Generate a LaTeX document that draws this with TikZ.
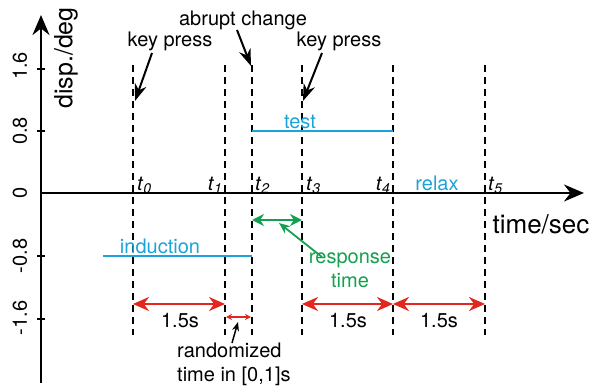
\documentclass[tikz,border=0pt]{standalone}
\usepackage{fontspec}
\setmainfont{TeX Gyre Heros}
\usetikzlibrary{arrows.meta}
\definecolor{myred}{RGB}{226,40,30}
\definecolor{myblue}{RGB}{28,163,218}
\definecolor{mygreen}{RGB}{20,160,80}
\newcommand{\tsub}[1]{{\itshape t\kern0.5pt\raisebox{-3pt}{\fontsize{14}{14}\selectfont #1}}}
\tikzset{
  lbl/.style={inner sep=0pt, font=\fontsize{20}{24}\selectfont},
  axlbl/.style={inner sep=0pt, font=\fontsize{25}{30}\selectfont},
  axisline/.style={line width=2.4pt, -{Stealth[length=20pt,width=17pt]}},
  tickmark/.style={line width=1.2pt},
  tline/.style={line width=2pt, dash pattern=on 7pt off 5pt},
  bluelevel/.style={line width=2.4pt, myblue},
  pointer/.style={line width=2pt, -{Stealth[length=17pt,width=12pt]}},
  redspan/.style={line width=2.6pt, myred, {Stealth[length=16pt,width=14pt]}-{Stealth[length=16pt,width=14pt]}},
  smallspan/.style={line width=1.3pt, myred, {Stealth[length=6pt,width=6pt]}-{Stealth[length=6pt,width=6pt]}},
  greenspan/.style={line width=2pt, mygreen, {Stealth[length=12pt,width=12pt]}-{Stealth[length=12pt,width=12pt]}},
  greenpointer/.style={line width=1.8pt, mygreen, -{Stealth[length=11pt,width=9pt]}},
  thinpointer/.style={line width=1.5pt, -{Stealth[length=9pt,width=7pt]}}
}
\begin{document}
\begin{tikzpicture}[x=1pt,y=-1pt]
\useasboundingbox (0,0) rectangle (590,388);

% axes
\coordinate (ybot) at (41,383);
\coordinate (ytop) at (41,15);
\coordinate (xleft) at (41,193);
\coordinate (xright) at (584,193);
\draw[axisline] (ybot) -- (ytop);
\draw[axisline] (xleft) -- (xright);

% ticks and tick labels
\foreach \yy/\lab/\nm in {69/1.6/a, 131/0.8/b, 256/-0.8/d, 319/-1.6/e}{
  \coordinate (tk\nm l) at (37,\yy);
  \coordinate (tk\nm r) at (45,\yy);
  \draw[tickmark] (tk\nm l) -- (tk\nm r);
}
\node[lbl, rotate=90] (ya) at (20,66) {1.6};
\node[lbl, rotate=90] (yb) at (20,131) {0.8};
\node[lbl, rotate=90] (yc) at (20,193) {0};
\node[lbl, rotate=90] (yd) at (20,256) {-0.8};
\node[lbl, rotate=90] (ye) at (20,318) {-1.6};

% axis labels
\node[axlbl, rotate=90] (ylab) at (66,58) {disp./deg};
\node[axlbl, anchor=base, font=\fontsize{26}{30}\selectfont] (xlab) at (541,233) {time/sec};

% dashed time lines
\foreach \xx/\nm in {133/0, 225/1, 252/2, 302/3, 393/4, 485/5}{
  \coordinate (top\nm) at (\xx,65);
  \coordinate (bot\nm) at (\xx,335);
  \draw[tline] (top\nm) -- (bot\nm);
}

% time labels
\node[lbl, anchor=base west] (l0) at (137,190) {\tsub{0}};
\node[lbl, anchor=base east] (l1) at (222,190) {\tsub{1}};
\node[lbl, anchor=base west] (l2) at (255,190) {\tsub{2}};
\node[lbl, anchor=base west] (l3) at (306,190) {\tsub{3}};
\node[lbl, anchor=base east] (l4) at (390,190) {\tsub{4}};
\node[lbl, anchor=base west] (l5) at (488,190) {\tsub{5}};
\node[lbl, anchor=base, text=myblue] (relax) at (437,190) {relax};

% stimulus levels
\coordinate (tests) at (252,131);
\coordinate (teste) at (393,131);
\draw[bluelevel] (tests) -- (teste);
\node[lbl, anchor=base, text=myblue] (test) at (300,128) {test};
\coordinate (inds) at (103,256);
\coordinate (inde) at (252,256);
\draw[bluelevel] (inds) -- (inde);
\node[lbl, anchor=base, text=myblue] (induction) at (160,253) {induction};

% top annotations
\node[lbl, anchor=base] (kp1) at (170,46) {key press};
\node[lbl, anchor=base] (abrupt) at (243,25) {abrupt change};
\node[lbl, anchor=base] (kp2) at (339,46) {key press};
\coordinate (kp1a) at (152,53);
\coordinate (kp1b) at (135,101);
\draw[pointer] (kp1a) -- (kp1b);
\coordinate (aba) at (237,30);
\coordinate (abb) at (251,66);
\draw[pointer] (aba) -- (abb);
\coordinate (kp2a) at (322,53);
\coordinate (kp2b) at (303,101);
\draw[pointer] (kp2a) -- (kp2b);

% response time
\coordinate (rs) at (252,220);
\coordinate (re) at (302,220);
\draw[greenspan] (rs) -- (re);
\node[lbl, anchor=base, text=mygreen] (resp) at (350,263) {response};
\node[lbl, anchor=base, text=mygreen] (resp2) at (350,287) {time};
\coordinate (rpa) at (322,257);
\coordinate (rpb) at (279,223);
\draw[greenpointer] (rpa) -- (rpb);

% durations
\coordinate (d0) at (133,304);
\coordinate (d1) at (225,304);
\coordinate (d3) at (302,304);
\coordinate (d4) at (393,304);
\coordinate (d5) at (485,304);
\draw[redspan] (d0) -- (d1);
\draw[redspan] (d3) -- (d4);
\draw[redspan] (d4) -- (d5);
\node[lbl, anchor=base] (s1) at (180,327) {1.5s};
\node[lbl, anchor=base] (s2) at (348,327) {1.5s};
\node[lbl, anchor=base] (s3) at (439,327) {1.5s};

% randomized
\coordinate (q1) at (226,317);
\coordinate (q2) at (251,317);
\draw[smallspan] (q1) -- (q2);
\node[lbl, anchor=base west] (rand1) at (177,357) {randomized};
\node[lbl, anchor=base west] (rand2) at (177,381) {time in [0,1]s};
\coordinate (rpa2) at (232,343);
\coordinate (rpb2) at (238,322);
\draw[thinpointer] (rpa2) -- (rpb2);
\end{tikzpicture}
\end{document}
